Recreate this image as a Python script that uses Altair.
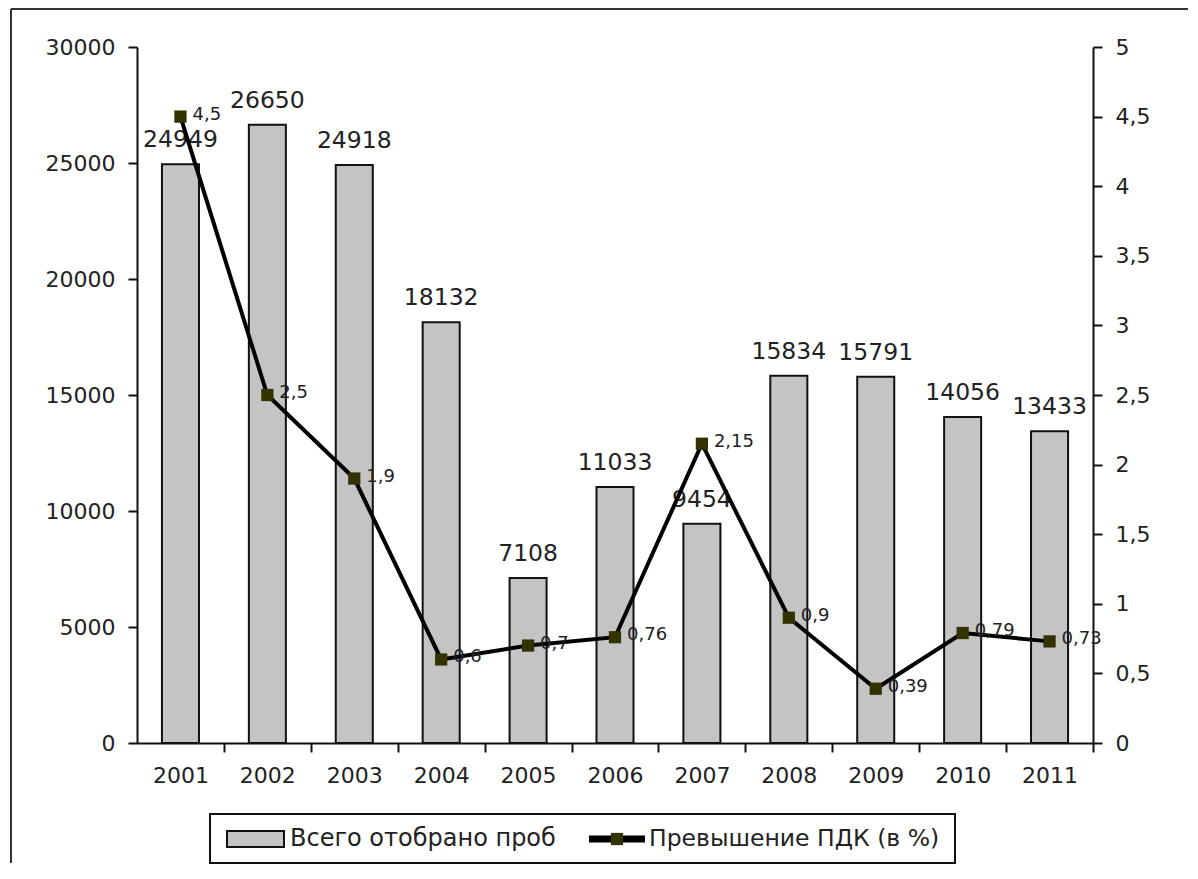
import altair as alt
import pandas as pd

years = ["2001", "2002", "2003", "2004", "2005", "2006", "2007", "2008", "2009", "2010", "2011"]
samples = [24949, 26650, 24918, 18132, 7108, 11033, 9454, 15834, 15791, 14056, 13433]
pdk = [4.5, 2.5, 1.9, 0.6, 0.7, 0.76, 2.15, 0.9, 0.39, 0.79, 0.73]

legend_bar = "Всего отобрано проб"
legend_line = "Превышение ПДК (в %)"

df = pd.DataFrame({"year": years, "samples": samples, "pdk": pdk})
one = pd.DataFrame({"a": [0]})

FONT = "DejaVu Sans"
W, H = 956, 696
STEP = W / len(years)

xenc = alt.X("year:O", sort=years,
             scale=alt.Scale(paddingInner=0.574, paddingOuter=0.287),
             axis=alt.Axis(title=None, labelAngle=0, tickOffset=STEP / 2, labelOffset=-STEP / 2,
                           labelFontSize=22, labelPadding=13))

yleft = alt.Y("samples:Q", scale=alt.Scale(domain=[0, 30000], nice=False),
              axis=alt.Axis(title=None, values=list(range(0, 30001, 5000)), format="d",
                            grid=False, labelFontSize=22, labelPadding=13))

base = alt.Chart(df)

bars = base.mark_bar(fill="#c4c4c4", stroke="#111", strokeWidth=2).encode(x=xenc, y=yleft)
bar_text = base.mark_text(font=FONT, fontSize=23.5, color="#222", dy=-24, baseline="middle").encode(
    x=xenc, y=yleft, text="samples:Q")
left = alt.layer(bars, bar_text)

yright = alt.Y("pdk:Q", scale=alt.Scale(domain=[0, 5], nice=False),
               axis=alt.Axis(title=None, orient="right", values=[i * 0.5 for i in range(11)],
                             labelExpr="replace(toString(datum.value), '.', ',')",
                             grid=False, labelFontSize=22, labelPadding=13))

line = base.mark_line(color="#000", strokeWidth=4).encode(x=xenc, y=yright)
pts = base.mark_square(size=150, color="#333300", opacity=1).encode(x=xenc, y=yright)
line_text = base.transform_calculate(
    lbl="replace(toString(datum.pdk), '.', ',')"
).mark_text(font=FONT, fontSize=18, color="#222", align="left", dx=12, dy=-2, baseline="middle").encode(
    x=xenc, y=yright, text="lbl:N")
right = alt.layer(line, pts, line_text)

# decorations: outer frame and legend box
deco_src = alt.Chart(one)
frame_left = deco_src.mark_rule(color="#333", strokeWidth=2).encode(
    x=alt.value(-126), y=alt.value(-38), y2=alt.value(816))
frame_top = deco_src.mark_rule(color="#333", strokeWidth=2).encode(
    x=alt.value(-126), x2=alt.value(1051), y=alt.value(-38))
leg_box = deco_src.mark_rect(fill="white", stroke="#111", strokeWidth=2).encode(
    x=alt.value(73), x2=alt.value(818), y=alt.value(767), y2=alt.value(816))
leg_bar = deco_src.mark_rect(fill="#c4c4c4", stroke="#111", strokeWidth=2).encode(
    x=alt.value(90), x2=alt.value(147), y=alt.value(784), y2=alt.value(800))
leg_bar_txt = deco_src.mark_text(font=FONT, fontSize=24, color="#222", align="left", baseline="middle").encode(
    x=alt.value(153), y=alt.value(792), text=alt.value(legend_bar))
leg_line = deco_src.mark_rule(color="#000", strokeWidth=7).encode(
    x=alt.value(452), x2=alt.value(508), y=alt.value(792))
leg_sq = deco_src.mark_square(size=150, color="#333300", opacity=1).encode(
    x=alt.value(480), y=alt.value(792))
leg_line_txt = deco_src.mark_text(font=FONT, fontSize=23.5, color="#222", align="left", baseline="middle").encode(
    x=alt.value(512), y=alt.value(792), text=alt.value(legend_line))
deco = alt.layer(frame_left, frame_top, leg_box, leg_bar, leg_bar_txt, leg_line, leg_sq, leg_line_txt)

chart = alt.layer(left, right, deco).resolve_scale(y="independent").properties(
    width=W, height=H, padding={"left": 2, "top": 0, "right": 0, "bottom": 0}, background="white"
).configure_view(stroke=None).configure_axis(
    domainColor="#111", domainWidth=2, tickColor="#111", tickWidth=2, tickSize=9,
    labelFont=FONT, labelColor="#222"
)

chart.save("out.html", embed_options={"renderer": "svg", "actions": False})
